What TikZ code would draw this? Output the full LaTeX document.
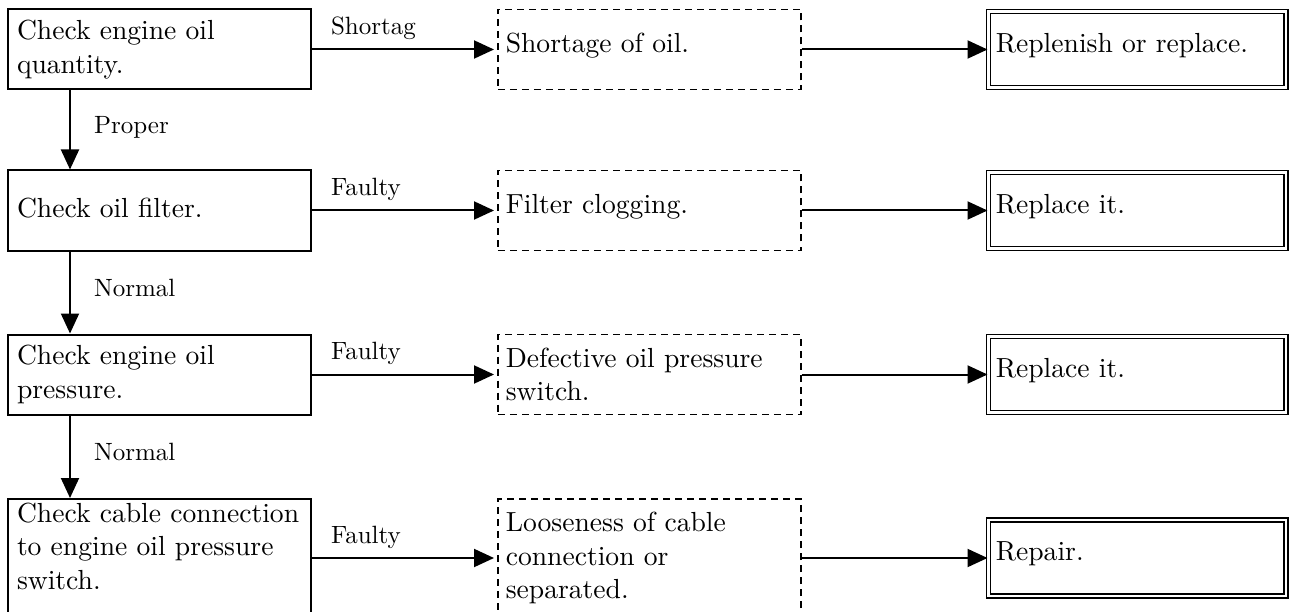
\documentclass[tikz,border=0pt]{standalone}
\usepackage{fontspec}
\setmainfont{lmroman10-regular.otf}
\usepackage{tikz}
\usetikzlibrary{arrows.meta,positioning}

\tikzset{
  chkbox/.style={draw, line width=2pt, anchor=west, minimum width=303pt, minimum height=80pt,
    text width=285pt, inner xsep=9pt, inner ysep=0pt, align=left,
    font=\fontsize{27.6}{33.4}\selectfont},
  causebox/.style={chkbox, line width=1.6pt, dash pattern=on 7pt off 5pt,
    inner xsep=8pt, text width=287pt},
  fixbox/.style={chkbox, line width=1.6pt, double, double distance=2.4pt,
    minimum width=297.5pt, minimum height=76pt, inner xsep=7.5pt, text width=282.5pt},
  oneline/.style={text depth=14pt},
  lbl/.style={font=\fontsize{25}{30}\selectfont, inner sep=0pt},
  arr/.style={line width=2pt, -{Triangle[length=20pt,width=18pt]}},
}

\begin{document}
\begin{tikzpicture}[x=1pt, y=-1pt]
\useasboundingbox (0,0) rectangle (1289,612);

% row 1
\node[chkbox] (chk1) at (7,49.5) {Check engine oil\\quantity.};
\node[causebox, oneline] (cause1) at (497,49.5) {Shortage of oil.};
\node[fixbox, oneline] (fix1) at (987.5,49.5) {Replenish or replace.};
% row 2
\node[chkbox, text depth=5pt] (chk2) at (7,210.5) {Check oil filter.};
\node[causebox, oneline] (cause2) at (497,210.5) {Filter clogging.};
\node[fixbox, oneline] (fix2) at (987.5,210.5) {Replace it.};
% row 3
\node[chkbox] (chk3) at (7,374.5) {Check engine oil\\pressure.};
\node[causebox] (cause3) at (497,374.5) {Defective oil pressure\\switch.};
\node[fixbox, oneline] (fix3) at (987.5,374.5) {Replace it.};
% row 4 (cut off at the bottom)
\node[chkbox, minimum height=118pt, text depth=91pt] (chk4) at (7,558)
  {Check cable connection\\to engine oil pressure\\switch.};
\node[causebox, minimum height=118pt] (cause4) at (497,558)
  {Looseness of cable\\connection or\\separated.};
\node[fixbox, oneline] (fix4) at (987.5,558) {Repair.};

% down the checks
\foreach \i/\j/\lab in {1/2/Proper, 2/3/Normal, 3/4/Normal} {
  \draw[arr] ([xshift=63pt]chk\i.south west) --
    node[lbl, anchor=base west, xshift=23pt, yshift=-4pt] {\lab}
    ([xshift=63pt]chk\j.north west);
}
% across to cause and remedy
\foreach \i/\lab in {1/Shortag, 2/Faulty, 3/Faulty, 4/Faulty} {
  \draw[arr, shorten >=3pt] (chk\i.east) --
    node[lbl, at start, anchor=base west, xshift=18pt, yshift=15pt] {\lab}
    (cause\i.west);
  \draw[arr] (cause\i.east) -- (fix\i.west);
}
\end{tikzpicture}
\end{document}
